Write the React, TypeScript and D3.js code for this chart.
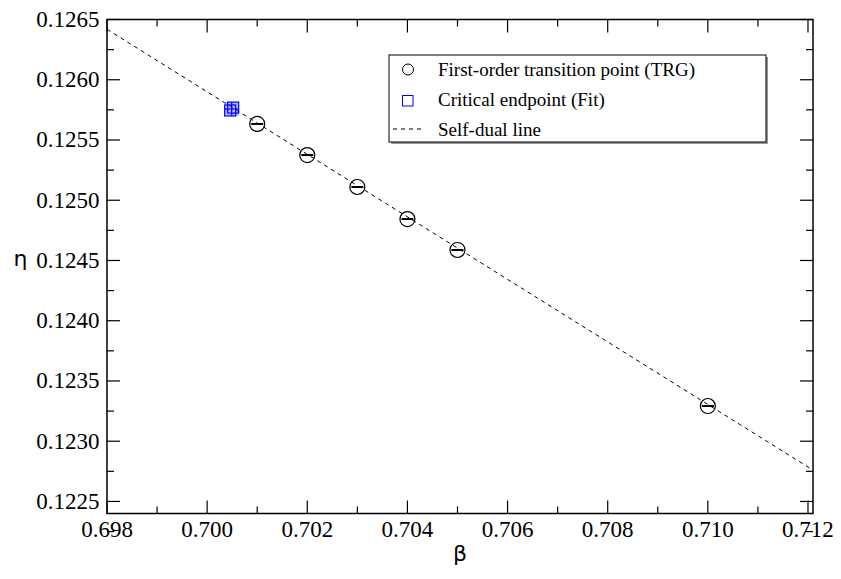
import React from "react";
import * as d3 from "d3";

// First-order transition points from TRG
const trgBeta = [0.701, 0.702, 0.703, 0.704, 0.705, 0.71];
const trgEta = [0.125633, 0.125375, 0.12511, 0.124844, 0.124587, 0.123292];
const trgBetaErr = [0.00012, 0.00012, 0.00012, 0.00012, 0.00012, 0.00012];

// Critical endpoint from the fit
const cepBeta = [0.70049];
const cepEta = [0.125757];
const cepBetaErr = [0.00003];
const cepEtaErr = [0.000012];

// Self-dual line
const dualBeta = [0.698, 0.7121];
const dualEta = [0.126419, 0.12276];

const xTicks = [0.698, 0.7, 0.702, 0.704, 0.706, 0.708, 0.71, 0.712];
const yTicks = [0.1225, 0.123, 0.1235, 0.124, 0.1245, 0.125, 0.1255, 0.126, 0.1265];

const legendLabels = [
  "First-order transition point (TRG)",
  "Critical endpoint (Fit)",
  "Self-dual line",
];

const W = 841;
const H = 579;
const L = 107;
const R = 813;
const T = 19.5;
const B = 513.5;

const serif = "Liberation Serif";
const greek = "DejaVu Sans";

export default function App() {
  const x = d3.scaleLinear().domain([0.698, 0.7121]).range([L, R]);
  const y = d3.scaleLinear().domain([0.1224, 0.1265]).range([B, T]);

  const xMinor = d3.range(0.699, 0.7121, 0.002);
  const yMinor = d3.range(0.12225, 0.1265, 0.0005);

  const line = d3
    .line<number>()
    .x((_, i) => x(dualBeta[i]))
    .y((d) => y(d));

  const major = 13;
  const minor = 7;

  return (
    <svg
      width={W}
      height={H}
      style={{ position: "absolute", left: 0, top: 0, background: "#fff" }}
    >
      <rect x={0} y={0} width={W} height={H} fill="#fff" />
      <defs>
        <clipPath id="plot">
          <rect x={L} y={T} width={R - L} height={B - T} />
        </clipPath>
      </defs>

      {/* self-dual line */}
      <path
        d={line(dualEta) || ""}
        fill="none"
        stroke="#000"
        strokeWidth={1}
        strokeDasharray="4,4"
        clipPath="url(#plot)"
      />

      {/* TRG points with error bars */}
      {trgBeta.map((b, i) => (
        <g key={"t" + i}>
          <line
            x1={x(b - trgBetaErr[i])}
            x2={x(b + trgBetaErr[i])}
            y1={y(trgEta[i])}
            y2={y(trgEta[i])}
            stroke="#000"
            strokeWidth={2}
          />
          <circle
            cx={x(b)}
            cy={y(trgEta[i])}
            r={7.5}
            fill="none"
            stroke="#000"
            strokeWidth={1.2}
          />
        </g>
      ))}

      {/* critical endpoint */}
      {cepBeta.map((b, i) => {
        const cx = x(b);
        const cy = y(cepEta[i]);
        const dx = x(b + cepBetaErr[i]) - cx;
        const dy = cy - y(cepEta[i] + cepEtaErr[i]);
        const s = 5.5;
        return (
          <g key={"c" + i} stroke="#0000ff" fill="none" strokeWidth={1.2}>
            <rect
              x={cx - s - dx}
              y={cy - s - dy}
              width={2 * s + 2 * dx}
              height={2 * s + 2 * dy}
              fill="#3333ff"
              fillOpacity={0.35}
              stroke="none"
            />
            <rect x={cx - s - dx} y={cy - s + dy} width={2 * s} height={2 * s} />
            <rect x={cx - s + dx} y={cy - s - dy} width={2 * s} height={2 * s} />
            <line x1={cx - s - dx} x2={cx + s + dx} y1={cy} y2={cy} />
            <line x1={cx} x2={cx} y1={cy - s - dy} y2={cy + s + dy} />
          </g>
        );
      })}

      {/* frame */}
      <rect
        x={L}
        y={T}
        width={R - L}
        height={B - T}
        fill="none"
        stroke="#000"
        strokeWidth={1.5}
      />

      {/* x ticks */}
      {xTicks.map((t) => (
        <g key={"xt" + t}>
          <line x1={x(t)} x2={x(t)} y1={B} y2={B - major} stroke="#000" strokeWidth={1.2} />
          <line x1={x(t)} x2={x(t)} y1={T} y2={T + major} stroke="#000" strokeWidth={1.2} />
          <text
            x={x(t)}
            y={537}
            textAnchor="middle"
            style={{ fontFamily: serif, fontSize: "23px" }}
            fill="#000"
          >
            {d3.format(".3f")(t)}
          </text>
        </g>
      ))}
      {xMinor.map((t) => (
        <g key={"xm" + t}>
          <line x1={x(t)} x2={x(t)} y1={B} y2={B - minor} stroke="#000" strokeWidth={1.2} />
          <line x1={x(t)} x2={x(t)} y1={T} y2={T + minor} stroke="#000" strokeWidth={1.2} />
        </g>
      ))}

      {/* y ticks */}
      {yTicks.map((t) => (
        <g key={"yt" + t}>
          <line x1={L} x2={L + major} y1={y(t)} y2={y(t)} stroke="#000" strokeWidth={1.2} />
          <line x1={R} x2={R - major} y1={y(t)} y2={y(t)} stroke="#000" strokeWidth={1.2} />
          <text
            x={99.5}
            y={y(t) + 7.5}
            textAnchor="end"
            style={{ fontFamily: serif, fontSize: "23px" }}
            fill="#000"
          >
            {d3.format(".4f")(t)}
          </text>
        </g>
      ))}
      {yMinor.map((t) => (
        <g key={"ym" + t}>
          <line x1={L} x2={L + minor} y1={y(t)} y2={y(t)} stroke="#000" strokeWidth={1.2} />
          <line x1={R} x2={R - minor} y1={y(t)} y2={y(t)} stroke="#000" strokeWidth={1.2} />
        </g>
      ))}

      {/* axis titles */}
      <text
        x={460}
        y={561}
        textAnchor="middle"
        style={{ fontFamily: greek, fontSize: "22px" }}
        fill="#000"
      >
        β
      </text>
      <text
        x={20.5}
        y={266}
        textAnchor="middle"
        style={{ fontFamily: greek, fontSize: "22px" }}
        fill="#000"
      >
        η
      </text>

      {/* legend */}
      <g>
        <rect x={391} y={57} width={377} height={87} fill="#999" />
        <rect x={389} y={55} width={377} height={87} fill="#fff" stroke="#000" strokeWidth={1} />
        <circle cx={408} cy={69.5} r={5.5} fill="none" stroke="#000" strokeWidth={1} />
        <rect x={402.5} y={95.5} width={10.5} height={10.5} fill="none" stroke="#0000ff" strokeWidth={1} />
        <line x1={393} x2={424} y1={129} y2={129} stroke="#000" strokeWidth={1} strokeDasharray="4,4" />
        {legendLabels.map((s, i) => (
          <text
            key={s}
            x={438}
            y={75.5 + i * 30}
            style={{ fontFamily: serif, fontSize: "19px" }}
            fill="#000"
          >
            {s}
          </text>
        ))}
      </g>
    </svg>
  );
}
